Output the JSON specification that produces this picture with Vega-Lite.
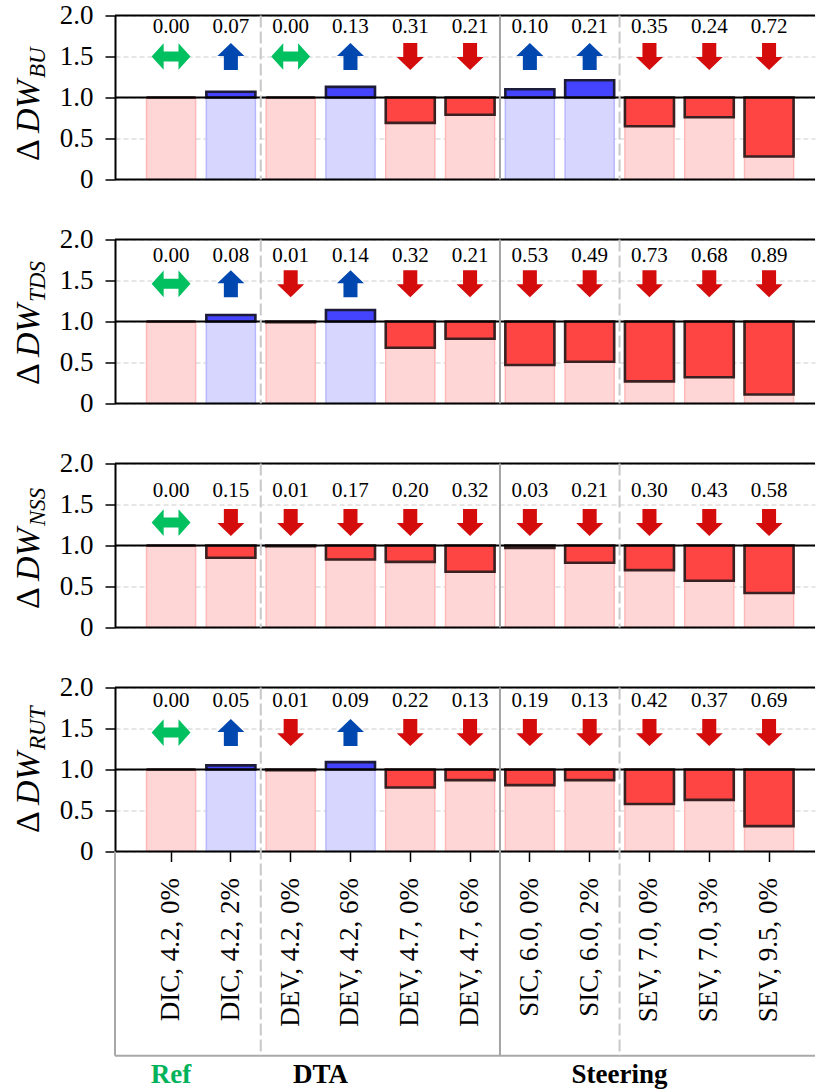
{
  "$schema": "https://vega.github.io/schema/vega-lite/v6.json",
  "padding": {"left": 11, "top": 1.5, "right": 5, "bottom": 0},
  "bounds": "flush",
  "spacing": 60,
  "config": {"view": {"stroke": null}, "font": "Liberation Serif"},
  "datasets": {
    "rows": [
      {"p": "BU", "cfg": "DIC, 4.2, 0%", "value": 1.00, "change": 0.00, "dir": "both"},
      {"p": "BU", "cfg": "DIC, 4.2, 2%", "value": 1.07, "change": 0.07, "dir": "up"},
      {"p": "BU", "cfg": "DEV, 4.2, 0%", "value": 1.00, "change": 0.00, "dir": "both"},
      {"p": "BU", "cfg": "DEV, 4.2, 6%", "value": 1.13, "change": 0.13, "dir": "up"},
      {"p": "BU", "cfg": "DEV, 4.7, 0%", "value": 0.69, "change": 0.31, "dir": "down"},
      {"p": "BU", "cfg": "DEV, 4.7, 6%", "value": 0.79, "change": 0.21, "dir": "down"},
      {"p": "BU", "cfg": "SIC, 6.0, 0%", "value": 1.10, "change": 0.10, "dir": "up"},
      {"p": "BU", "cfg": "SIC, 6.0, 2%", "value": 1.21, "change": 0.21, "dir": "up"},
      {"p": "BU", "cfg": "SEV, 7.0, 0%", "value": 0.65, "change": 0.35, "dir": "down"},
      {"p": "BU", "cfg": "SEV, 7.0, 3%", "value": 0.76, "change": 0.24, "dir": "down"},
      {"p": "BU", "cfg": "SEV, 9.5, 0%", "value": 0.28, "change": 0.72, "dir": "down"},
      {"p": "TDS", "cfg": "DIC, 4.2, 0%", "value": 1.00, "change": 0.00, "dir": "both"},
      {"p": "TDS", "cfg": "DIC, 4.2, 2%", "value": 1.08, "change": 0.08, "dir": "up"},
      {"p": "TDS", "cfg": "DEV, 4.2, 0%", "value": 0.99, "change": 0.01, "dir": "down"},
      {"p": "TDS", "cfg": "DEV, 4.2, 6%", "value": 1.14, "change": 0.14, "dir": "up"},
      {"p": "TDS", "cfg": "DEV, 4.7, 0%", "value": 0.68, "change": 0.32, "dir": "down"},
      {"p": "TDS", "cfg": "DEV, 4.7, 6%", "value": 0.79, "change": 0.21, "dir": "down"},
      {"p": "TDS", "cfg": "SIC, 6.0, 0%", "value": 0.47, "change": 0.53, "dir": "down"},
      {"p": "TDS", "cfg": "SIC, 6.0, 2%", "value": 0.51, "change": 0.49, "dir": "down"},
      {"p": "TDS", "cfg": "SEV, 7.0, 0%", "value": 0.27, "change": 0.73, "dir": "down"},
      {"p": "TDS", "cfg": "SEV, 7.0, 3%", "value": 0.32, "change": 0.68, "dir": "down"},
      {"p": "TDS", "cfg": "SEV, 9.5, 0%", "value": 0.11, "change": 0.89, "dir": "down"},
      {"p": "NSS", "cfg": "DIC, 4.2, 0%", "value": 1.00, "change": 0.00, "dir": "both"},
      {"p": "NSS", "cfg": "DIC, 4.2, 2%", "value": 0.85, "change": 0.15, "dir": "down"},
      {"p": "NSS", "cfg": "DEV, 4.2, 0%", "value": 0.99, "change": 0.01, "dir": "down"},
      {"p": "NSS", "cfg": "DEV, 4.2, 6%", "value": 0.83, "change": 0.17, "dir": "down"},
      {"p": "NSS", "cfg": "DEV, 4.7, 0%", "value": 0.80, "change": 0.20, "dir": "down"},
      {"p": "NSS", "cfg": "DEV, 4.7, 6%", "value": 0.68, "change": 0.32, "dir": "down"},
      {"p": "NSS", "cfg": "SIC, 6.0, 0%", "value": 0.97, "change": 0.03, "dir": "down"},
      {"p": "NSS", "cfg": "SIC, 6.0, 2%", "value": 0.79, "change": 0.21, "dir": "down"},
      {"p": "NSS", "cfg": "SEV, 7.0, 0%", "value": 0.70, "change": 0.30, "dir": "down"},
      {"p": "NSS", "cfg": "SEV, 7.0, 3%", "value": 0.57, "change": 0.43, "dir": "down"},
      {"p": "NSS", "cfg": "SEV, 9.5, 0%", "value": 0.42, "change": 0.58, "dir": "down"},
      {"p": "RUT", "cfg": "DIC, 4.2, 0%", "value": 1.00, "change": 0.00, "dir": "both"},
      {"p": "RUT", "cfg": "DIC, 4.2, 2%", "value": 1.05, "change": 0.05, "dir": "up"},
      {"p": "RUT", "cfg": "DEV, 4.2, 0%", "value": 0.99, "change": 0.01, "dir": "down"},
      {"p": "RUT", "cfg": "DEV, 4.2, 6%", "value": 1.09, "change": 0.09, "dir": "up"},
      {"p": "RUT", "cfg": "DEV, 4.7, 0%", "value": 0.78, "change": 0.22, "dir": "down"},
      {"p": "RUT", "cfg": "DEV, 4.7, 6%", "value": 0.87, "change": 0.13, "dir": "down"},
      {"p": "RUT", "cfg": "SIC, 6.0, 0%", "value": 0.81, "change": 0.19, "dir": "down"},
      {"p": "RUT", "cfg": "SIC, 6.0, 2%", "value": 0.87, "change": 0.13, "dir": "down"},
      {"p": "RUT", "cfg": "SEV, 7.0, 0%", "value": 0.58, "change": 0.42, "dir": "down"},
      {"p": "RUT", "cfg": "SEV, 7.0, 3%", "value": 0.63, "change": 0.37, "dir": "down"},
      {"p": "RUT", "cfg": "SEV, 9.5, 0%", "value": 0.31, "change": 0.69, "dir": "down"}
    ],
    "seps": [
      {"cfg": "DIC, 4.2, 2%", "line": "dashed"},
      {"cfg": "DEV, 4.7, 6%", "line": "solid"},
      {"cfg": "SIC, 6.0, 2%", "line": "dashed"}
    ]
  },
  "resolve": {"scale": {"fill": "independent", "stroke": "independent", "color": "independent", "shape": "independent", "strokeDash": "independent"}},
  "vconcat": [
    {
      "width": 700, "height": 164,
      "layer": [
        {"data": {"name": "rows"}, "transform": [{"filter": "datum.p == 'BU'"}],
         "mark": {"type": "bar", "width": {"band": 0.82}, "strokeWidth": 1.5},
         "encoding": {
           "x": {"field": "cfg", "type": "nominal", "scale": {"domain": ["DIC, 4.2, 0%","DIC, 4.2, 2%","DEV, 4.2, 0%","DEV, 4.2, 6%","DEV, 4.7, 0%","DEV, 4.7, 6%","SIC, 6.0, 0%","SIC, 6.0, 2%","SEV, 7.0, 0%","SEV, 7.0, 3%","SEV, 9.5, 0%"], "paddingInner": 0, "paddingOuter": 0.353, "align": 0.62}, "axis": null},
           "y": {"datum": 1, "type": "quantitative", "scale": {"domain": [0, 2]},
                 "axis": {"orient": "left", "title": "Δ", "values": [0, 0.5, 1, 1.5, 2], "labelExpr": "datum.value == 0 ? '0' : format(datum.value, '.1f')", "labelFont": "Liberation Serif", "labelFontSize": 27, "labelColor": "black", "labelPadding": 12, "tickSize": 10, "tickWidth": 1.5, "tickColor": "black", "domainColor": "black", "domainWidth": 2, "grid": true, "gridDash": [5, 3], "gridColor": "#cccccc", "gridWidth": 1, "titleFont": "Liberation Serif", "titleFontSize": 34, "titleFontWeight": "normal", "titleColor": "black", "titleAngle": 270, "titleAlign": "left", "titleBaseline": "alphabetic", "titleX": -77, "titleY": 145}},
           "y2": {"datum": 0},
           "fill": {"field": "dir", "type": "nominal", "scale": {"domain": ["both", "down", "up"], "range": ["#ffd6d6", "#ffd6d6", "#d6d6ff"]}, "legend": null},
           "stroke": {"field": "dir", "type": "nominal", "scale": {"domain": ["both", "down", "up"], "range": ["#ffb8b8", "#ffb8b8", "#b8b8ff"]}, "legend": null}
         }},
        {"data": {"name": "rows"}, "transform": [{"filter": "datum.p == 'BU'"}],
         "mark": {"type": "bar", "width": {"band": 0.82}, "strokeWidth": 2.6},
         "encoding": {
           "x": {"field": "cfg", "type": "nominal", "axis": null},
           "y": {"field": "value", "type": "quantitative",
                 "axis": {"orient": "left", "title": "DW", "labels": false, "ticks": false, "domain": false, "grid": false, "titleFont": "Liberation Serif", "titleFontSize": 34, "titleFontStyle": "italic", "titleFontWeight": "normal", "titleColor": "black", "titleAngle": 270, "titleAlign": "left", "titleBaseline": "alphabetic", "titleX": -77, "titleY": 117}},
           "y2": {"datum": 1},
           "fill": {"field": "dir", "type": "nominal", "scale": {"domain": ["both", "down", "up"], "range": ["#ff4444", "#ff4444", "#4444ff"]}, "legend": null},
           "stroke": {"field": "dir", "type": "nominal", "scale": {"domain": ["both", "down", "up"], "range": ["#3a2020", "#3a2020", "#1c1c3a"]}, "legend": null}
         }},
        {"data": {"values": [{}]}, "mark": {"type": "rule", "color": "black", "strokeWidth": 2}, "encoding": {"y": {"datum": 0, "type": "quantitative", "axis": null}}},
        {"data": {"values": [{}]}, "mark": {"type": "rule", "color": "black", "strokeWidth": 2}, "encoding": {"y": {"datum": 1, "type": "quantitative", "axis": null}}},
        {"data": {"values": [{}]}, "mark": {"type": "rule", "color": "black", "strokeWidth": 2}, "encoding": {"y": {"datum": 2, "type": "quantitative", "axis": null}}},
        {"data": {"name": "seps"}, "mark": {"type": "rule", "strokeWidth": 2},
         "encoding": {
           "x": {"field": "cfg", "type": "nominal", "bandPosition": 1, "axis": null},
           "y": {"datum": 2, "type": "quantitative", "axis": null}, "y2": {"datum": 0},
           "color": {"field": "line", "type": "nominal", "scale": {"domain": ["dashed", "solid"], "range": ["#c8c8c8", "#a4a4a4"]}, "legend": null},
           "strokeDash": {"field": "line", "type": "nominal", "scale": {"domain": ["dashed", "solid"], "range": [[12, 4], [1, 0]]}, "legend": null}
         }},
        {"data": {"name": "rows"}, "transform": [{"filter": "datum.p == 'BU'"}],
         "mark": {"type": "point", "filled": true, "size": 729, "opacity": 1, "strokeWidth": 0},
         "encoding": {
           "x": {"field": "cfg", "type": "nominal", "axis": null},
           "y": {"datum": 1.5, "type": "quantitative",
                 "axis": {"orient": "left", "title": "BU", "labels": false, "ticks": false, "domain": false, "grid": false, "titleFont": "Liberation Serif", "titleFontSize": 23, "titleFontStyle": "italic", "titleFontWeight": "normal", "titleColor": "black", "titleAngle": 270, "titleAlign": "left", "titleBaseline": "alphabetic", "titleX": -71, "titleY": 62}},
           "shape": {"field": "dir", "type": "nominal", "scale": {"domain": ["both", "down", "up"], "range": ["M-1.44,0L-0.55,-0.99L-0.55,-0.37L0.55,-0.37L0.55,-0.99L1.44,0L0.55,0.99L0.55,0.37L-0.55,0.37L-0.55,0.99Z", "M0,1L1,0.04L0.52,0.04L0.52,-1L-0.52,-1L-0.52,0.04L-1,0.04Z", "M0,-1L1,-0.04L0.52,-0.04L0.52,1L-0.52,1L-0.52,-0.04L-1,-0.04Z"]}, "legend": null},
           "color": {"field": "dir", "type": "nominal", "scale": {"domain": ["both", "down", "up"], "range": ["#00c060", "#d40c0c", "#0048b0"]}, "legend": null}
         }},
        {"data": {"name": "rows"}, "transform": [{"filter": "datum.p == 'BU'"}],
         "mark": {"type": "text", "fontSize": 21, "font": "Liberation Serif", "baseline": "middle", "color": "black"},
         "encoding": {
           "x": {"field": "cfg", "type": "nominal", "axis": null},
           "y": {"datum": 1.86, "type": "quantitative", "axis": null},
           "text": {"field": "change", "type": "quantitative", "format": ".2f"}
         }}
      ],
      "resolve": {"axis": {"y": "independent"}, "scale": {"fill": "independent", "stroke": "independent", "color": "independent"}}
    },
    {
      "width": 700, "height": 164,
      "layer": [
        {"data": {"name": "rows"}, "transform": [{"filter": "datum.p == 'TDS'"}],
         "mark": {"type": "bar", "width": {"band": 0.82}, "strokeWidth": 1.5},
         "encoding": {
           "x": {"field": "cfg", "type": "nominal", "scale": {"domain": ["DIC, 4.2, 0%","DIC, 4.2, 2%","DEV, 4.2, 0%","DEV, 4.2, 6%","DEV, 4.7, 0%","DEV, 4.7, 6%","SIC, 6.0, 0%","SIC, 6.0, 2%","SEV, 7.0, 0%","SEV, 7.0, 3%","SEV, 9.5, 0%"], "paddingInner": 0, "paddingOuter": 0.353, "align": 0.62}, "axis": null},
           "y": {"datum": 1, "type": "quantitative", "scale": {"domain": [0, 2]},
                 "axis": {"orient": "left", "title": "Δ", "values": [0, 0.5, 1, 1.5, 2], "labelExpr": "datum.value == 0 ? '0' : format(datum.value, '.1f')", "labelFont": "Liberation Serif", "labelFontSize": 27, "labelColor": "black", "labelPadding": 12, "tickSize": 10, "tickWidth": 1.5, "tickColor": "black", "domainColor": "black", "domainWidth": 2, "grid": true, "gridDash": [5, 3], "gridColor": "#cccccc", "gridWidth": 1, "titleFont": "Liberation Serif", "titleFontSize": 34, "titleFontWeight": "normal", "titleColor": "black", "titleAngle": 270, "titleAlign": "left", "titleBaseline": "alphabetic", "titleX": -77, "titleY": 145}},
           "y2": {"datum": 0},
           "fill": {"field": "dir", "type": "nominal", "scale": {"domain": ["both", "down", "up"], "range": ["#ffd6d6", "#ffd6d6", "#d6d6ff"]}, "legend": null},
           "stroke": {"field": "dir", "type": "nominal", "scale": {"domain": ["both", "down", "up"], "range": ["#ffb8b8", "#ffb8b8", "#b8b8ff"]}, "legend": null}
         }},
        {"data": {"name": "rows"}, "transform": [{"filter": "datum.p == 'TDS'"}],
         "mark": {"type": "bar", "width": {"band": 0.82}, "strokeWidth": 2.6},
         "encoding": {
           "x": {"field": "cfg", "type": "nominal", "axis": null},
           "y": {"field": "value", "type": "quantitative",
                 "axis": {"orient": "left", "title": "DW", "labels": false, "ticks": false, "domain": false, "grid": false, "titleFont": "Liberation Serif", "titleFontSize": 34, "titleFontStyle": "italic", "titleFontWeight": "normal", "titleColor": "black", "titleAngle": 270, "titleAlign": "left", "titleBaseline": "alphabetic", "titleX": -77, "titleY": 117}},
           "y2": {"datum": 1},
           "fill": {"field": "dir", "type": "nominal", "scale": {"domain": ["both", "down", "up"], "range": ["#ff4444", "#ff4444", "#4444ff"]}, "legend": null},
           "stroke": {"field": "dir", "type": "nominal", "scale": {"domain": ["both", "down", "up"], "range": ["#3a2020", "#3a2020", "#1c1c3a"]}, "legend": null}
         }},
        {"data": {"values": [{}]}, "mark": {"type": "rule", "color": "black", "strokeWidth": 2}, "encoding": {"y": {"datum": 0, "type": "quantitative", "axis": null}}},
        {"data": {"values": [{}]}, "mark": {"type": "rule", "color": "black", "strokeWidth": 2}, "encoding": {"y": {"datum": 1, "type": "quantitative", "axis": null}}},
        {"data": {"values": [{}]}, "mark": {"type": "rule", "color": "black", "strokeWidth": 2}, "encoding": {"y": {"datum": 2, "type": "quantitative", "axis": null}}},
        {"data": {"name": "seps"}, "mark": {"type": "rule", "strokeWidth": 2},
         "encoding": {
           "x": {"field": "cfg", "type": "nominal", "bandPosition": 1, "axis": null},
           "y": {"datum": 2, "type": "quantitative", "axis": null}, "y2": {"datum": 0},
           "color": {"field": "line", "type": "nominal", "scale": {"domain": ["dashed", "solid"], "range": ["#c8c8c8", "#a4a4a4"]}, "legend": null},
           "strokeDash": {"field": "line", "type": "nominal", "scale": {"domain": ["dashed", "solid"], "range": [[12, 4], [1, 0]]}, "legend": null}
         }},
        {"data": {"name": "rows"}, "transform": [{"filter": "datum.p == 'TDS'"}],
         "mark": {"type": "point", "filled": true, "size": 729, "opacity": 1, "strokeWidth": 0},
         "encoding": {
           "x": {"field": "cfg", "type": "nominal", "axis": null},
           "y": {"datum": 1.46, "type": "quantitative",
                 "axis": {"orient": "left", "title": "TDS", "labels": false, "ticks": false, "domain": false, "grid": false, "titleFont": "Liberation Serif", "titleFontSize": 23, "titleFontStyle": "italic", "titleFontWeight": "normal", "titleColor": "black", "titleAngle": 270, "titleAlign": "left", "titleBaseline": "alphabetic", "titleX": -71, "titleY": 62}},
           "shape": {"field": "dir", "type": "nominal", "scale": {"domain": ["both", "down", "up"], "range": ["M-1.44,0L-0.55,-0.99L-0.55,-0.37L0.55,-0.37L0.55,-0.99L1.44,0L0.55,0.99L0.55,0.37L-0.55,0.37L-0.55,0.99Z", "M0,1L1,0.04L0.52,0.04L0.52,-1L-0.52,-1L-0.52,0.04L-1,0.04Z", "M0,-1L1,-0.04L0.52,-0.04L0.52,1L-0.52,1L-0.52,-0.04L-1,-0.04Z"]}, "legend": null},
           "color": {"field": "dir", "type": "nominal", "scale": {"domain": ["both", "down", "up"], "range": ["#00c060", "#d40c0c", "#0048b0"]}, "legend": null}
         }},
        {"data": {"name": "rows"}, "transform": [{"filter": "datum.p == 'TDS'"}],
         "mark": {"type": "text", "fontSize": 21, "font": "Liberation Serif", "baseline": "middle", "color": "black"},
         "encoding": {
           "x": {"field": "cfg", "type": "nominal", "axis": null},
           "y": {"datum": 1.8, "type": "quantitative", "axis": null},
           "text": {"field": "change", "type": "quantitative", "format": ".2f"}
         }}
      ],
      "resolve": {"axis": {"y": "independent"}, "scale": {"fill": "independent", "stroke": "independent", "color": "independent"}}
    },
    {
      "width": 700, "height": 164,
      "layer": [
        {"data": {"name": "rows"}, "transform": [{"filter": "datum.p == 'NSS'"}],
         "mark": {"type": "bar", "width": {"band": 0.82}, "strokeWidth": 1.5},
         "encoding": {
           "x": {"field": "cfg", "type": "nominal", "scale": {"domain": ["DIC, 4.2, 0%","DIC, 4.2, 2%","DEV, 4.2, 0%","DEV, 4.2, 6%","DEV, 4.7, 0%","DEV, 4.7, 6%","SIC, 6.0, 0%","SIC, 6.0, 2%","SEV, 7.0, 0%","SEV, 7.0, 3%","SEV, 9.5, 0%"], "paddingInner": 0, "paddingOuter": 0.353, "align": 0.62}, "axis": null},
           "y": {"datum": 1, "type": "quantitative", "scale": {"domain": [0, 2]},
                 "axis": {"orient": "left", "title": "Δ", "values": [0, 0.5, 1, 1.5, 2], "labelExpr": "datum.value == 0 ? '0' : format(datum.value, '.1f')", "labelFont": "Liberation Serif", "labelFontSize": 27, "labelColor": "black", "labelPadding": 12, "tickSize": 10, "tickWidth": 1.5, "tickColor": "black", "domainColor": "black", "domainWidth": 2, "grid": true, "gridDash": [5, 3], "gridColor": "#cccccc", "gridWidth": 1, "titleFont": "Liberation Serif", "titleFontSize": 34, "titleFontWeight": "normal", "titleColor": "black", "titleAngle": 270, "titleAlign": "left", "titleBaseline": "alphabetic", "titleX": -77, "titleY": 145}},
           "y2": {"datum": 0},
           "fill": {"field": "dir", "type": "nominal", "scale": {"domain": ["both", "down", "up"], "range": ["#ffd6d6", "#ffd6d6", "#d6d6ff"]}, "legend": null},
           "stroke": {"field": "dir", "type": "nominal", "scale": {"domain": ["both", "down", "up"], "range": ["#ffb8b8", "#ffb8b8", "#b8b8ff"]}, "legend": null}
         }},
        {"data": {"name": "rows"}, "transform": [{"filter": "datum.p == 'NSS'"}],
         "mark": {"type": "bar", "width": {"band": 0.82}, "strokeWidth": 2.6},
         "encoding": {
           "x": {"field": "cfg", "type": "nominal", "axis": null},
           "y": {"field": "value", "type": "quantitative",
                 "axis": {"orient": "left", "title": "DW", "labels": false, "ticks": false, "domain": false, "grid": false, "titleFont": "Liberation Serif", "titleFontSize": 34, "titleFontStyle": "italic", "titleFontWeight": "normal", "titleColor": "black", "titleAngle": 270, "titleAlign": "left", "titleBaseline": "alphabetic", "titleX": -77, "titleY": 117}},
           "y2": {"datum": 1},
           "fill": {"field": "dir", "type": "nominal", "scale": {"domain": ["both", "down", "up"], "range": ["#ff4444", "#ff4444", "#4444ff"]}, "legend": null},
           "stroke": {"field": "dir", "type": "nominal", "scale": {"domain": ["both", "down", "up"], "range": ["#3a2020", "#3a2020", "#1c1c3a"]}, "legend": null}
         }},
        {"data": {"values": [{}]}, "mark": {"type": "rule", "color": "black", "strokeWidth": 2}, "encoding": {"y": {"datum": 0, "type": "quantitative", "axis": null}}},
        {"data": {"values": [{}]}, "mark": {"type": "rule", "color": "black", "strokeWidth": 2}, "encoding": {"y": {"datum": 1, "type": "quantitative", "axis": null}}},
        {"data": {"values": [{}]}, "mark": {"type": "rule", "color": "black", "strokeWidth": 2}, "encoding": {"y": {"datum": 2, "type": "quantitative", "axis": null}}},
        {"data": {"name": "seps"}, "mark": {"type": "rule", "strokeWidth": 2},
         "encoding": {
           "x": {"field": "cfg", "type": "nominal", "bandPosition": 1, "axis": null},
           "y": {"datum": 2, "type": "quantitative", "axis": null}, "y2": {"datum": 0},
           "color": {"field": "line", "type": "nominal", "scale": {"domain": ["dashed", "solid"], "range": ["#c8c8c8", "#a4a4a4"]}, "legend": null},
           "strokeDash": {"field": "line", "type": "nominal", "scale": {"domain": ["dashed", "solid"], "range": [[12, 4], [1, 0]]}, "legend": null}
         }},
        {"data": {"name": "rows"}, "transform": [{"filter": "datum.p == 'NSS'"}],
         "mark": {"type": "point", "filled": true, "size": 729, "opacity": 1, "strokeWidth": 0},
         "encoding": {
           "x": {"field": "cfg", "type": "nominal", "axis": null},
           "y": {"datum": 1.28, "type": "quantitative",
                 "axis": {"orient": "left", "title": "NSS", "labels": false, "ticks": false, "domain": false, "grid": false, "titleFont": "Liberation Serif", "titleFontSize": 23, "titleFontStyle": "italic", "titleFontWeight": "normal", "titleColor": "black", "titleAngle": 270, "titleAlign": "left", "titleBaseline": "alphabetic", "titleX": -71, "titleY": 62}},
           "shape": {"field": "dir", "type": "nominal", "scale": {"domain": ["both", "down", "up"], "range": ["M-1.44,0L-0.55,-0.99L-0.55,-0.37L0.55,-0.37L0.55,-0.99L1.44,0L0.55,0.99L0.55,0.37L-0.55,0.37L-0.55,0.99Z", "M0,1L1,0.04L0.52,0.04L0.52,-1L-0.52,-1L-0.52,0.04L-1,0.04Z", "M0,-1L1,-0.04L0.52,-0.04L0.52,1L-0.52,1L-0.52,-0.04L-1,-0.04Z"]}, "legend": null},
           "color": {"field": "dir", "type": "nominal", "scale": {"domain": ["both", "down", "up"], "range": ["#00c060", "#d40c0c", "#0048b0"]}, "legend": null}
         }},
        {"data": {"name": "rows"}, "transform": [{"filter": "datum.p == 'NSS'"}],
         "mark": {"type": "text", "fontSize": 21, "font": "Liberation Serif", "baseline": "middle", "color": "black"},
         "encoding": {
           "x": {"field": "cfg", "type": "nominal", "axis": null},
           "y": {"datum": 1.66, "type": "quantitative", "axis": null},
           "text": {"field": "change", "type": "quantitative", "format": ".2f"}
         }}
      ],
      "resolve": {"axis": {"y": "independent"}, "scale": {"fill": "independent", "stroke": "independent", "color": "independent"}}
    },
    {
      "width": 700, "height": 164,
      "layer": [
        {"data": {"name": "rows"}, "transform": [{"filter": "datum.p == 'RUT'"}],
         "mark": {"type": "bar", "width": {"band": 0.82}, "strokeWidth": 1.5},
         "encoding": {
           "x": {"field": "cfg", "type": "nominal", "scale": {"domain": ["DIC, 4.2, 0%","DIC, 4.2, 2%","DEV, 4.2, 0%","DEV, 4.2, 6%","DEV, 4.7, 0%","DEV, 4.7, 6%","SIC, 6.0, 0%","SIC, 6.0, 2%","SEV, 7.0, 0%","SEV, 7.0, 3%","SEV, 9.5, 0%"], "paddingInner": 0, "paddingOuter": 0.353, "align": 0.62},
                 "axis": {"orient": "bottom", "title": null, "labelAngle": -90, "labelFont": "Liberation Serif", "labelFontSize": 27, "labelColor": "black", "labelPadding": 16, "tickSize": 10, "tickWidth": 1.5, "tickColor": "black", "domain": false, "grid": false}},
           "y": {"datum": 1, "type": "quantitative", "scale": {"domain": [0, 2]},
                 "axis": {"orient": "left", "title": "Δ", "values": [0, 0.5, 1, 1.5, 2], "labelExpr": "datum.value == 0 ? '0' : format(datum.value, '.1f')", "labelFont": "Liberation Serif", "labelFontSize": 27, "labelColor": "black", "labelPadding": 12, "tickSize": 10, "tickWidth": 1.5, "tickColor": "black", "domainColor": "black", "domainWidth": 2, "grid": true, "gridDash": [5, 3], "gridColor": "#cccccc", "gridWidth": 1, "titleFont": "Liberation Serif", "titleFontSize": 34, "titleFontWeight": "normal", "titleColor": "black", "titleAngle": 270, "titleAlign": "left", "titleBaseline": "alphabetic", "titleX": -77, "titleY": 145}},
           "y2": {"datum": 0},
           "fill": {"field": "dir", "type": "nominal", "scale": {"domain": ["both", "down", "up"], "range": ["#ffd6d6", "#ffd6d6", "#d6d6ff"]}, "legend": null},
           "stroke": {"field": "dir", "type": "nominal", "scale": {"domain": ["both", "down", "up"], "range": ["#ffb8b8", "#ffb8b8", "#b8b8ff"]}, "legend": null}
         }},
        {"data": {"name": "rows"}, "transform": [{"filter": "datum.p == 'RUT'"}],
         "mark": {"type": "bar", "width": {"band": 0.82}, "strokeWidth": 2.6},
         "encoding": {
           "x": {"field": "cfg", "type": "nominal"},
           "y": {"field": "value", "type": "quantitative",
                 "axis": {"orient": "left", "title": "DW", "labels": false, "ticks": false, "domain": false, "grid": false, "titleFont": "Liberation Serif", "titleFontSize": 34, "titleFontStyle": "italic", "titleFontWeight": "normal", "titleColor": "black", "titleAngle": 270, "titleAlign": "left", "titleBaseline": "alphabetic", "titleX": -77, "titleY": 117}},
           "y2": {"datum": 1},
           "fill": {"field": "dir", "type": "nominal", "scale": {"domain": ["both", "down", "up"], "range": ["#ff4444", "#ff4444", "#4444ff"]}, "legend": null},
           "stroke": {"field": "dir", "type": "nominal", "scale": {"domain": ["both", "down", "up"], "range": ["#3a2020", "#3a2020", "#1c1c3a"]}, "legend": null}
         }},
        {"data": {"values": [{}]}, "mark": {"type": "rule", "color": "black", "strokeWidth": 2}, "encoding": {"y": {"datum": 0, "type": "quantitative", "axis": null}}},
        {"data": {"values": [{}]}, "mark": {"type": "rule", "color": "black", "strokeWidth": 2}, "encoding": {"y": {"datum": 1, "type": "quantitative", "axis": null}}},
        {"data": {"values": [{}]}, "mark": {"type": "rule", "color": "black", "strokeWidth": 2}, "encoding": {"y": {"datum": 2, "type": "quantitative", "axis": null}}},
        {"data": {"values": [{"cfg": "DIC, 4.2, 0%"}]}, "mark": {"type": "rule", "color": "#a8a8a8", "strokeWidth": 2},
         "encoding": {"x": {"field": "cfg", "type": "nominal", "bandPosition": -0.438}, "y": {"datum": 0, "type": "quantitative", "axis": null}, "y2": {"datum": -2.49}}},
        {"data": {"values": [{}]}, "mark": {"type": "rule", "color": "#a8a8a8", "strokeWidth": 2}, "encoding": {"y": {"datum": -2.49, "type": "quantitative", "axis": null}}},
        {"data": {"name": "seps"}, "mark": {"type": "rule", "strokeWidth": 2},
         "encoding": {
           "x": {"field": "cfg", "type": "nominal", "bandPosition": 1},
           "y": {"datum": 2, "type": "quantitative", "axis": null}, "y2": {"datum": -2.49},
           "color": {"field": "line", "type": "nominal", "scale": {"domain": ["dashed", "solid"], "range": ["#c8c8c8", "#a4a4a4"]}, "legend": null},
           "strokeDash": {"field": "line", "type": "nominal", "scale": {"domain": ["dashed", "solid"], "range": [[12, 4], [1, 0]]}, "legend": null}
         }},
        {"data": {"name": "rows"}, "transform": [{"filter": "datum.p == 'RUT'"}],
         "mark": {"type": "point", "filled": true, "size": 729, "opacity": 1, "strokeWidth": 0},
         "encoding": {
           "x": {"field": "cfg", "type": "nominal"},
           "y": {"datum": 1.45, "type": "quantitative",
                 "axis": {"orient": "left", "title": "RUT", "labels": false, "ticks": false, "domain": false, "grid": false, "titleFont": "Liberation Serif", "titleFontSize": 23, "titleFontStyle": "italic", "titleFontWeight": "normal", "titleColor": "black", "titleAngle": 270, "titleAlign": "left", "titleBaseline": "alphabetic", "titleX": -71, "titleY": 62}},
           "shape": {"field": "dir", "type": "nominal", "scale": {"domain": ["both", "down", "up"], "range": ["M-1.44,0L-0.55,-0.99L-0.55,-0.37L0.55,-0.37L0.55,-0.99L1.44,0L0.55,0.99L0.55,0.37L-0.55,0.37L-0.55,0.99Z", "M0,1L1,0.04L0.52,0.04L0.52,-1L-0.52,-1L-0.52,0.04L-1,0.04Z", "M0,-1L1,-0.04L0.52,-0.04L0.52,1L-0.52,1L-0.52,-0.04L-1,-0.04Z"]}, "legend": null},
           "color": {"field": "dir", "type": "nominal", "scale": {"domain": ["both", "down", "up"], "range": ["#00c060", "#d40c0c", "#0048b0"]}, "legend": null}
         }},
        {"data": {"name": "rows"}, "transform": [{"filter": "datum.p == 'RUT'"}],
         "mark": {"type": "text", "fontSize": 21, "font": "Liberation Serif", "baseline": "middle", "color": "black"},
         "encoding": {
           "x": {"field": "cfg", "type": "nominal"},
           "y": {"datum": 1.84, "type": "quantitative", "axis": null},
           "text": {"field": "change", "type": "quantitative", "format": ".2f"}
         }},
        {"data": {"values": [{"group": "Ref", "cfg": "DIC, 4.2, 0%"}]},
         "mark": {"type": "text", "fontSize": 27, "font": "Liberation Serif", "fontWeight": "bold", "baseline": "middle", "color": "#00b35a"},
         "encoding": {
           "x": {"field": "cfg", "type": "nominal", "bandPosition": 0.5},
           "y": {"datum": -2.73, "type": "quantitative", "axis": null},
           "text": {"field": "group", "type": "nominal"}
         }},
        {"data": {"values": [{"group": "DTA", "cfg": "DEV, 4.2, 0%"}, {"group": "Steering", "cfg": "SIC, 6.0, 2%"}]},
         "mark": {"type": "text", "fontSize": 27, "font": "Liberation Serif", "fontWeight": "bold", "baseline": "middle", "color": "black"},
         "encoding": {
           "x": {"field": "cfg", "type": "nominal", "bandPosition": 1},
           "y": {"datum": -2.73, "type": "quantitative", "axis": null},
           "text": {"field": "group", "type": "nominal"}
         }}
      ],
      "resolve": {"axis": {"y": "independent"}, "scale": {"fill": "independent", "stroke": "independent", "color": "independent"}}
    }
  ]
}
